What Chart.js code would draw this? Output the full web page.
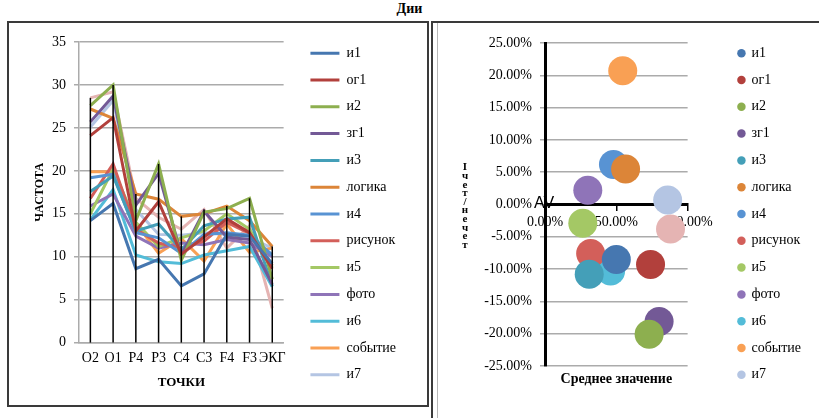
<!DOCTYPE html>
<html>
<head>
<meta charset="utf-8">
<script src="https://cdn.jsdelivr.net/npm/chart.js@4.4.1/dist/chart.umd.min.js"></script>
<style>
  body { margin: 0; background: #fff; width: 819px; height: 418px; overflow: hidden; position: relative; }
  #title { position: absolute; left: 0; width: 819px; top: 1px; text-align: center; font: bold 14px 'Liberation Serif'; color: #000; }
  .frame { position: absolute; box-sizing: border-box; border: 2px solid #3a3a3a; }
  canvas { position: absolute; }
</style>
</head>
<body>
<div id="title">Дии</div>
<div class="frame" style="left:7px;top:21px;width:422px;height:386px;"></div>
<div class="frame" style="left:431px;top:21px;width:400px;height:400px;"></div>
<div class="frame" style="left:437px;top:23px;width:1px;height:400px;border:none;border-left:1px solid #b8b8b8;"></div>
<canvas id="lineChart" width="420" height="382" style="left:8px;top:23px"></canvas>
<canvas id="bubbleChart" width="381" height="382" style="left:438px;top:23px"></canvas>
<script>
const points = ['O2', 'O1', 'P4', 'P3', 'C4', 'C3', 'F4', 'F3', 'ЭКГ'];
const names = ['и1', 'ог1', 'и2', 'зг1', 'и3', 'логика', 'и4', 'рисунок', 'и5', 'фото', 'и6', 'событие', 'и7', 'и8'];
const colors = ['#4677B0', '#B2403C', '#8DAF4F', '#735996', '#449FB8', '#DC8538', '#5893D3',
                '#D35F5A', '#A4C865', '#8F74B8', '#53BCD8', '#F9A054', '#B4C5E3', '#E5B4B3'];

// частота по точкам
const freq = [
  [14.2, 16.2, 8.6, 9.7, 6.6, 8.0, 12.6, 12.4, 9.2],
  [24.1, 26.2, 13.0, 16.4, 10.3, 12.3, 14.4, 12.8, 8.6],
  [27.6, 30.0, 14.2, 20.8, 9.6, 15.2, 15.6, 16.8, 7.4],
  [25.7, 28.7, 16.0, 19.7, 10.2, 15.3, 12.3, 12.0, 6.8],
  [17.6, 19.4, 13.0, 13.8, 10.8, 13.6, 14.4, 14.6, 6.6],
  [27.2, 26.1, 17.3, 16.7, 14.7, 15.0, 15.9, 14.2, 11.2],
  [19.2, 19.6, 12.8, 12.2, 10.4, 12.6, 12.8, 12.5, 10.2],
  [16.8, 20.8, 13.2, 11.6, 11.0, 11.8, 14.0, 12.7, 9.0],
  [15.0, 20.2, 14.0, 11.2, 12.2, 13.0, 15.0, 13.2, 8.8],
  [15.9, 17.3, 12.4, 11.0, 11.6, 11.4, 12.0, 11.6, 10.0],
  [14.3, 17.8, 10.2, 9.4, 9.2, 10.2, 10.7, 11.2, 6.5],
  [19.9, 19.9, 13.9, 10.4, 12.1, 9.5, 13.8, 10.5, 11.0],
  [25.1, 28.2, 15.5, 12.6, 12.5, 12.8, 12.6, 12.2, 11.0],
  [28.5, 29.2, 16.8, 14.6, 13.2, 15.5, 11.0, 13.6, 4.0]
];

// среднее значение (%) и чет/нечет (%)
const meanVal = [50, 74, 73, 80, 31, 56.5, 48, 32, 26.5, 30, 46, 54.5, 86, 88];
const evenOdd = [-8.5, -9.3, -20.1, -18.1, -10.8, 5.5, 6.2, -7.6, -2.9, 2.2, -10.3, 20.7, 0.7, -3.8];

const yTicksLeft = [0, 35, 5];
const yTicksRight = [-25, 25, 5];
const xTicksRight = [0, 100, 50];

Chart.defaults.font.family = 'Liberation Serif';
Chart.defaults.font.size = 14;
Chart.defaults.color = '#000';

const gridGray = '#ABABAB';
const legendShown = 13;

// пустая ось-отступ
function spacer(position, size) {
  return {
    position: position,
    display: true,
    ticks: { display: false },
    grid: { display: false },
    border: { display: false },
    afterFit: s => {
      if (position === 'top' || position === 'bottom') s.height = size;
      else s.width = size;
    }
  };
}

// вертикальные линии от максимума до оси
const dropLines = {
  id: 'dropLines',
  afterDatasetsDraw(chart) {
    const {ctx, scales: {x, y}} = chart;
    ctx.save();
    ctx.strokeStyle = '#000';
    ctx.lineWidth = 1.5;
    points.forEach((p, i) => {
      const top = Math.max(...freq.map(s => s[i]));
      const px = x.getPixelForValue(i);
      ctx.beginPath();
      ctx.moveTo(px, y.getPixelForValue(top));
      ctx.lineTo(px, y.getPixelForValue(0));
      ctx.stroke();
    });
    ctx.restore();
  }
};

new Chart(document.getElementById('lineChart'), {
  type: 'line',
  data: {
    labels: points,
    datasets: freq.map((s, i) => ({
      label: names[i],
      data: s,
      borderColor: colors[i],
      backgroundColor: colors[i],
      borderWidth: 3,
      pointRadius: 0,
      tension: 0
    }))
  },
  options: {
    responsive: false,
    animation: false,
    layout: { padding: { left: 21, top: 0, right: 22, bottom: 0 } },
    plugins: {
      legend: {
        position: 'right',
        align: 'center',
        maxWidth: 200,
        labels: {
          usePointStyle: true,
          pointStyle: 'line',
          pointStyleWidth: 29,
          padding: 12.8,
          font: { size: 14 },
          filter: item => item.datasetIndex < legendShown
        }
      },
      tooltip: { enabled: false }
    },
    scales: {
      x: {
        offset: true,
        grid: { drawOnChartArea: false, drawTicks: false },
        border: { color: gridGray, width: 1.5 },
        ticks: { padding: 7, maxRotation: 0, autoSkip: false },
        title: { display: true, text: 'ТОЧКИ', font: { size: 13, weight: 'bold' }, padding: { top: 1, bottom: 15 } }
      },
      y: {
        min: yTicksLeft[0],
        max: yTicksLeft[1],
        ticks: { stepSize: yTicksLeft[2], padding: 8 },
        grid: { color: gridGray, lineWidth: 1.5, tickLength: 5 },
        border: { color: gridGray, width: 1.5 },
        title: { display: true, text: 'ЧАСТОТА', font: { size: 12, weight: 'bold' } },
        afterFit: s => { s.width = 50; }
      },
      topGap: spacer('top', 19),
      gap: spacer('right', 14)
    }
  },
  plugins: [dropLines]
});

// подписи осей пузырьковой диаграммы
const bubbleText = {
  id: 'bubbleText',
  afterDraw(chart) {
    const {ctx, chartArea: a, scales: {x, y}} = chart;
    ctx.save();
    ctx.fillStyle = '#000';
    ctx.textAlign = 'center';
    ctx.textBaseline = 'middle';
    ctx.font = 'bold 14px Liberation Serif';
    ctx.fillText('Среднее значение', (a.left + a.right) / 2, a.bottom + 13);
    ctx.font = 'bold 11px Liberation Serif';
    const chars = 'Iчет/нечет'.split('');
    const y0 = y.getPixelForValue(0);
    chars.forEach((c, i) => ctx.fillText(c, a.left - 80, y0 - 37 + i * 8.6));
    ctx.font = '16px Liberation Sans';
    ctx.fillText('AV', x.getPixelForValue(0) - 1, y0 - 1);
    ctx.restore();
  }
};

new Chart(document.getElementById('bubbleChart'), {
  type: 'bubble',
  data: {
    datasets: names.map((n, i) => ({
      label: n,
      data: [{ x: meanVal[i], y: evenOdd[i] }],
      backgroundColor: colors[i],
      borderWidth: 0,
      radius: 14.5
    }))
  },
  options: {
    responsive: false,
    animation: false,
    layout: { padding: { left: 33, top: 0, right: 8, bottom: 0 } },
    plugins: {
      legend: {
        position: 'right',
        align: 'center',
        maxWidth: 200,
        labels: {
          usePointStyle: true,
          pointStyle: 'circle',
          boxWidth: 6,
          boxHeight: 6,
          padding: 12.8,
          font: { size: 14 },
          filter: item => item.datasetIndex < legendShown
        }
      },
      tooltip: { enabled: false }
    },
    scales: {
      x: {
        type: 'linear',
        position: { y: 0 },
        min: xTicksRight[0],
        max: xTicksRight[1],
        ticks: { stepSize: xTicksRight[2], padding: 4, callback: v => v.toFixed(2) + '%' },
        grid: { drawOnChartArea: false, color: '#000', lineWidth: 1.5, tickLength: 5 },
        border: { color: '#000', width: 3 }
      },
      y: {
        min: yTicksRight[0],
        max: yTicksRight[1],
        ticks: { stepSize: yTicksRight[2], padding: 8, callback: v => v.toFixed(2) + '%' },
        grid: { color: gridGray, lineWidth: 1.5, tickLength: 5 },
        border: { color: '#000', width: 3 },
        afterFit: s => { s.width = 74; }
      },
      topGap: spacer('top', 20),
      bottomGap: spacer('bottom', 39),
      gap: spacer('right', 38)
    }
  },
  plugins: [bubbleText]
});
</script>
</body>
</html>
